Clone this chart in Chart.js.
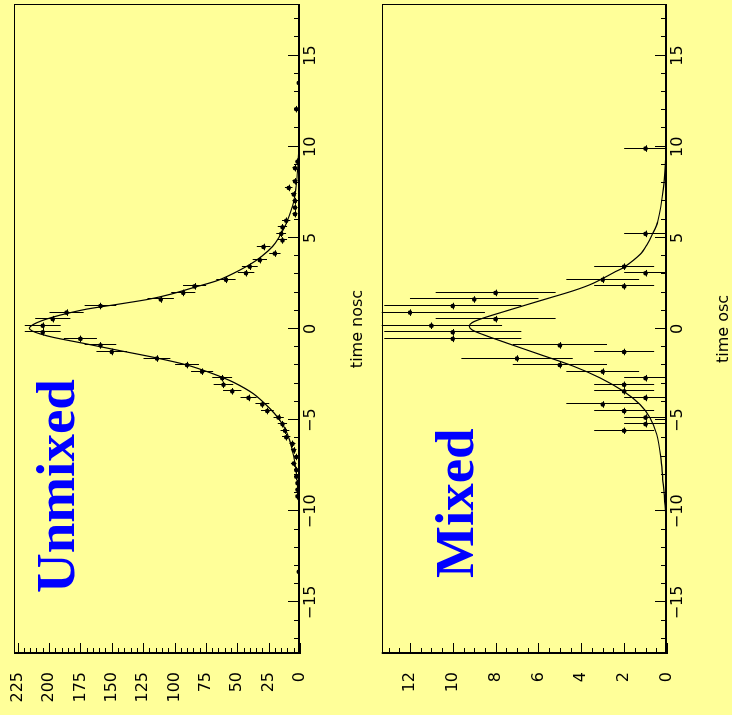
<!DOCTYPE html>
<html>
<head>
<meta charset="utf-8">
<title>B0 oscillation: unmixed and mixed proper-time distributions</title>
<script src="https://cdn.jsdelivr.net/npm/chart.js@4.4.1/dist/chart.umd.min.js"></script>
<style>
  html, body { margin: 0; padding: 0; width: 732px; height: 715px; overflow: hidden; background: #ffff99; }
  /* The two panels are laid out upright, then the whole sheet is turned a quarter turn counter-clockwise. */
  #sheet { position: absolute; left: 0; top: 0; width: 715px; height: 732px; background: #ffff99;
           transform-origin: 0 0; transform: translateY(715px) rotate(-90deg); }
  #sheet canvas { position: absolute; left: 0; }
</style>
</head>
<body>
<div id="sheet">
  <canvas id="unmixedPanel" width="715" height="366" style="top:0px"></canvas>
  <canvas id="mixedPanel" width="715" height="366" style="top:366px"></canvas>
</div>
<script>
// ---- Unmixed sample: bin centres (time), entries and Poisson errors ----
const unmixedTimes = [-13.32, -9.18, -8.82, -8.46, -8.10, -7.74, -7.38, -7.02, -6.66, -6.30,
  -5.94, -5.58, -5.22, -4.86, -4.50, -4.14, -3.78, -3.42, -3.06, -2.70,
  -2.34, -1.98, -1.62, -1.26, -0.90, -0.54, -0.18, 0.18, 0.54, 0.90,
  1.26, 1.62, 1.98, 2.34, 2.70, 3.06, 3.42, 3.78, 4.14, 4.50,
  4.86, 5.22, 5.58, 5.94, 6.30, 6.66, 7.02, 7.38, 7.74, 8.10,
  8.82, 9.18, 12.06, 13.50];
const unmixedCounts = [1, 2, 2, 2, 3, 3, 5, 3, 5, 6,
  11, 12, 14, 17, 26, 30, 41, 54, 61, 62,
  78, 90, 114, 150, 159, 175, 205, 205, 197, 186,
  159, 111, 93, 84, 59, 43, 40, 32, 20, 29,
  14, 15, 14, 11, 4, 4, 4, 5, 9, 4,
  4, 2, 3, 1];
const unmixedErrors = [1.0, 1.4, 1.4, 1.4, 1.7, 1.7, 2.2, 1.7, 2.2, 2.4,
  3.3, 3.5, 3.7, 4.1, 5.1, 5.5, 6.4, 7.3, 7.8, 7.9,
  8.8, 9.5, 10.7, 12.2, 12.6, 13.2, 14.3, 14.3, 14.0, 13.6,
  12.6, 10.5, 9.6, 9.2, 7.7, 6.6, 6.3, 5.7, 4.5, 5.4,
  3.7, 3.9, 3.7, 3.3, 2.0, 2.0, 2.0, 2.2, 3.0, 2.0,
  2.0, 1.4, 1.7, 1.0];

// ---- Mixed sample ----
const mixedTimes = [-5.58, -5.22, -4.86, -4.50, -4.14, -3.78, -3.42, -3.06, -2.70, -2.34,
  -1.98, -1.62, -1.26, -0.90, -0.54, -0.18, 0.18, 0.54, 0.90, 1.26,
  1.62, 1.98, 2.34, 2.70, 3.06, 3.42, 5.22, 9.90];
const mixedCounts = [2, 1, 1, 2, 3, 1, 2, 2, 1, 3,
  5, 7, 2, 5, 10, 10, 11, 8, 12, 10,
  9, 8, 2, 3, 1, 2, 1, 1];
const mixedErrors = [1.4, 1.0, 1.0, 1.4, 1.7, 1.0, 1.4, 1.4, 1.0, 1.7,
  2.2, 2.6, 1.4, 2.2, 3.2, 3.2, 3.3, 2.8, 3.5, 3.2,
  3.0, 2.8, 1.4, 1.7, 1.0, 1.4, 1.0, 1.0];

// half width of a time bin (horizontal error bar)
const binHalfWidth = 0.18;

// ---- Fitted curves (sampled) ----
const unmixedFitTimes = [-10, -9, -8, -7, -6.1, -5.47, -4.92, -4.37, -3.55, -2.92,
  -2.46, -1.97, -1.55, -1.19, -0.82, -0.46, -0.27, -0.1, 0.05, 0.25,
  0.45, 0.65, 0.85, 1.09, 1.37, 1.64, 1.91, 2.31, 2.68, 3.23,
  3.73, 4.28, 4.73, 5.37, 5.92, 7.0, 8.0, 8.84, 10];
const unmixedFitValues = [0.9, 1.6, 2.8, 5.0, 8.3, 12, 17, 23.9, 37.2, 53.1,
  69.1, 90.3, 116.9, 143.4, 170, 196.5, 207, 213.5, 215.7, 212.5,
  206, 197, 186, 170, 144, 120, 103, 83, 65, 48,
  35.5, 25.5, 19.5, 14, 10.2, 5, 2.8, 1.8, 0.8];

const mixedFitTimes = [-10, -9, -8.24, -7.06, -5.78, -4.87, -4.14, -3.41, -2.68, -2.04,
  -1.4, -0.77, -0.31, -0.05, 0.15, 0.35, 0.6, 1.0, 1.55, 2.1,
  2.51, 3.15, 3.39, 4.1, 4.6, 5.16, 5.9, 7.7, 9.5, 10];
const mixedFitValues = [0.08, 0.13, 0.2, 0.29, 0.48, 0.79, 1.26, 2.04, 3.13, 4.37,
  5.93, 7.48, 8.58, 9.1, 9.23, 9.1, 8.58, 7.48, 5.93, 4.37,
  3.44, 2.4, 2.0, 1.25, 0.95, 0.7, 0.43, 0.17, 0.05, 0.03];

// ---- Axis tick labels ----
const timeTickLabels = [-15, -10, -5, 0, 5, 10, 15];
const unmixedCountTicks = [0, 25, 50, 75, 100, 125, 150, 175, 200, 225];
const mixedCountTicks = [0, 2, 4, 6, 8, 10, 12];

const TICK_FONT = { family: 'DejaVu Sans', size: 16 };

// Frame, inward tick marks, error bars, axis title and the big panel label.
const panelDecor = {
  id: 'panelDecor',
  beforeDatasetsDraw(chart) {
    const cfg = chart.options.plugins.panelDecor;
    const xs = chart.scales.x, ys = chart.scales.y, a = chart.chartArea;
    const ctx = chart.ctx;
    ctx.save();
    ctx.beginPath();
    ctx.rect(a.left, a.top, a.right - a.left, a.bottom - a.top);
    ctx.clip();
    ctx.strokeStyle = '#000';
    ctx.lineWidth = 1;
    ctx.beginPath();
    cfg.times.forEach((t, i) => {
      const v = cfg.counts[i], e = cfg.errors[i];
      const px = Math.round(xs.getPixelForValue(t)) + 0.5;
      const py = Math.round(ys.getPixelForValue(v)) + 0.5;
      ctx.moveTo(px, ys.getPixelForValue(v - e));
      ctx.lineTo(px, ys.getPixelForValue(v + e));
      ctx.moveTo(xs.getPixelForValue(t - binHalfWidth), py);
      ctx.lineTo(xs.getPixelForValue(t + binHalfWidth), py);
    });
    ctx.stroke();
    ctx.restore();
  },
  afterDraw(chart) {
    const cfg = chart.options.plugins.panelDecor;
    const xs = chart.scales.x, ys = chart.scales.y, a = chart.chartArea;
    const ctx = chart.ctx;
    ctx.save();
    ctx.strokeStyle = '#000';
    // frame
    ctx.lineWidth = 1;
    ctx.strokeRect(Math.round(a.left) + 0.5, Math.round(a.top) + 0.5,
                   Math.round(a.right - a.left) - 1, Math.round(a.bottom - a.top) - 1);
    // axis lines
    ctx.lineWidth = 2;
    ctx.beginPath();
    ctx.moveTo(a.left + 1, a.top);
    ctx.lineTo(a.left + 1, a.bottom);
    ctx.moveTo(a.left, a.bottom - 1);
    ctx.lineTo(a.right, a.bottom - 1);
    ctx.stroke();
    // time ticks, pointing into the frame
    ctx.lineWidth = 1;
    ctx.beginPath();
    for (let t = -17; t <= 17; t++) {
      const major = t % 5 === 0;
      const px = Math.round(xs.getPixelForValue(t)) + 0.5;
      ctx.moveTo(px, a.bottom);
      ctx.lineTo(px, a.bottom - (major ? 12 : 6));
    }
    // count ticks, pointing into the frame
    for (let k = 0; k * cfg.minorStep <= ys.max + 1e-9; k++) {
      const v = k * cfg.minorStep;
      const major = k % cfg.minorPerMajor === 0;
      const py = Math.round(ys.getPixelForValue(v)) + 0.5;
      ctx.moveTo(a.left, py);
      ctx.lineTo(a.left + (major ? 11 : 6), py);
    }
    ctx.stroke();
    // axis title
    ctx.fillStyle = '#000';
    ctx.font = '16px "DejaVu Sans"';
    ctx.textAlign = 'center';
    ctx.textBaseline = 'alphabetic';
    ctx.fillText(cfg.axisTitle, (a.left + a.right) / 2, 362);
    // panel label
    ctx.fillStyle = '#0000ff';
    ctx.font = 'bold 55px "Liberation Serif"';
    ctx.textAlign = 'left';
    ctx.fillText(cfg.label, cfg.labelX, cfg.labelY);
    ctx.restore();
  }
};

// keep the plot frame exactly where the layout padding puts it
function clearScalePadding(s) {
  s.paddingTop = 0; s.paddingBottom = 0; s.paddingLeft = 0; s.paddingRight = 0;
}

function buildPanel(canvasId, o) {
  const points = o.times.map((t, i) => ({ x: t, y: o.counts[i] }));
  const fit = o.fitTimes.map((t, i) => ({ x: t, y: o.fitValues[i] }));
  return new Chart(document.getElementById(canvasId), {
    type: 'scatter',
    data: {
      datasets: [
        { data: fit, showLine: true, pointRadius: 0, borderColor: '#000', borderWidth: 1.2,
          tension: 0.3, fill: false },
        { data: points, pointRadius: 2.3, pointStyle: 'circle', backgroundColor: '#000',
          borderColor: '#000', borderWidth: 0 }
      ]
    },
    options: {
      responsive: false,
      animation: false,
      devicePixelRatio: 1,
      layout: { padding: { top: o.top, right: 1.7, left: 0, bottom: 0 } },
      plugins: {
        legend: { display: false },
        tooltip: { enabled: false },
        panelDecor: {
          times: o.times, counts: o.counts, errors: o.errors,
          minorStep: o.minorStep, minorPerMajor: o.minorPerMajor,
          axisTitle: o.axisTitle, label: o.label, labelX: o.labelX, labelY: o.labelY
        }
      },
      scales: {
        x: {
          type: 'linear', min: -17.83, max: 17.83,
          afterBuildTicks: s => { s.ticks = timeTickLabels.map(v => ({ value: v })); },
          afterFit: s => { s.height = 366 - o.bottom; clearScalePadding(s); },
          grid: { display: false, drawTicks: false },
          border: { display: false },
          ticks: { font: TICK_FONT, color: '#000', padding: 1, maxRotation: 0, autoSkip: false,
                   callback: v => (v < 0 ? '\u2212' + Math.abs(v) : String(v)) }
        },
        y: {
          type: 'linear', min: 0, max: o.yMax,
          afterBuildTicks: s => { s.ticks = o.countTicks.map(v => ({ value: v })); },
          afterFit: s => { s.width = 61; clearScalePadding(s); },
          grid: { display: false, drawTicks: false },
          border: { display: false },
          ticks: { font: TICK_FONT, color: '#000', padding: 18, autoSkip: false,
                   callback: v => String(v) }
        }
      }
    },
    plugins: [panelDecor]
  });
}

buildPanel('unmixedPanel', {
  times: unmixedTimes, counts: unmixedCounts, errors: unmixedErrors,
  fitTimes: unmixedFitTimes, fitValues: unmixedFitValues,
  countTicks: unmixedCountTicks, yMax: 227.9, minorStep: 5, minorPerMajor: 5,
  top: 14, bottom: 300,
  axisTitle: 'time nosc', label: 'Unmixed', labelX: 122, labelY: 74
});

buildPanel('mixedPanel', {
  times: mixedTimes, counts: mixedCounts, errors: mixedErrors,
  fitTimes: mixedFitTimes, fitValues: mixedFitValues,
  countTicks: mixedCountTicks, yMax: 13.32, minorStep: 0.5, minorPerMajor: 4,
  top: 15.7, bottom: 301,
  axisTitle: 'time osc', label: 'Mixed', labelX: 137, labelY: 107
});
</script>
</body>
</html>
